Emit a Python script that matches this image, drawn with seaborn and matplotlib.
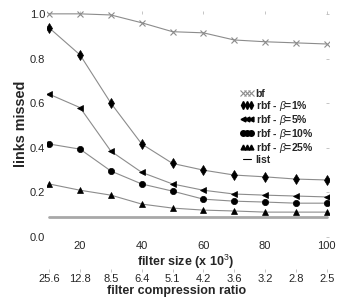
import numpy as np
import pandas as pd
import matplotlib
matplotlib.use('Agg')
import matplotlib.pyplot as plt
import seaborn as sns
from matplotlib.lines import Line2D

filter_size = [10, 20, 30, 40, 50, 60, 70, 80, 90, 100]
compression = ['25.6', '12.8', '8.5', '6.4', '5.1', '4.2', '3.6', '3.2', '2.8', '2.5']

bf = [1.0, 1.0, 0.995, 0.96, 0.92, 0.915, 0.883, 0.875, 0.87, 0.865]
rbf_1 = [0.937, 0.816, 0.60, 0.417, 0.33, 0.30, 0.278, 0.27, 0.26, 0.256]
rbf_5 = [0.64, 0.58, 0.385, 0.29, 0.238, 0.21, 0.193, 0.188, 0.184, 0.18]
rbf_10 = [0.417, 0.394, 0.296, 0.238, 0.206, 0.17, 0.161, 0.157, 0.152, 0.152]
rbf_25 = [0.238, 0.21, 0.188, 0.148, 0.13, 0.121, 0.117, 0.112, 0.112, 0.112]
list_val = [0.09] * 10

sns.set_style('white')
plt.rcParams['font.family'] = ['Liberation Sans', 'DejaVu Sans']
plt.rcParams['mathtext.fontset'] = 'custom'
plt.rcParams['mathtext.it'] = 'Liberation Sans:italic'
plt.rcParams['mathtext.rm'] = 'Liberation Sans'

fig = plt.figure(figsize=(3.54, 3.04), dpi=100)
ax = fig.add_axes([0.133, 0.22, 0.796, 0.744])

grey = '#8c8c8c'
sns.lineplot(x=filter_size, y=list_val, ax=ax, color='#a8a8a8', linewidth=2)
sns.lineplot(x=filter_size, y=bf, ax=ax, color=grey, linewidth=0.8,
             marker='x', markersize=4.5, markeredgecolor=grey, markeredgewidth=0.8)
series = [(rbf_1, 'd', 5), (rbf_5, '<', 4.5), (rbf_10, 'o', 4.5), (rbf_25, '^', 4.5)]
for vals, mk, ms in series:
    sns.lineplot(x=filter_size, y=vals, ax=ax, color=grey, linewidth=0.8,
                 marker=mk, markersize=ms, markerfacecolor='black',
                 markeredgecolor='black', markeredgewidth=0.5)

ax.set_xlim(9.3, 100.7)
ax.set_ylim(0, 1.013)
ax.set_xticks([20, 40, 60, 80, 100])
ax.set_yticks([0.0, 0.2, 0.4, 0.6, 0.8, 1.0])
ax.set_yticklabels(['0.0', '0.2', '0.4', '0.6', '0.8', '1.0'])
for s in ax.spines.values():
    s.set_visible(False)
ax.tick_params(axis='both', labelsize=8, length=2, width=0.6, color='#bbbbbb',
               direction='in', pad=1.5, top=True, right=True)
ax.tick_params(axis='x', pad=2.5)
ax.set_xlabel('filter size (x 10$^3$)', fontsize=9, fontweight='bold')
ax.xaxis.set_label_coords(0.49, -0.068)
ax.set_ylabel('links missed', fontsize=10.4, fontweight='bold')
ax.yaxis.set_label_coords(-0.068, 0.5)

sec = ax.secondary_xaxis(-0.155)
sec.set_xticks(filter_size, compression)
sec.spines['bottom'].set_visible(False)
sec.tick_params(labelsize=8, length=2, width=0.6, color='#bbbbbb', direction='in', pad=1)
ax.text(0.46, -0.237, 'filter compression ratio', transform=ax.transAxes,
        ha='center', va='center', fontsize=9, fontweight='bold')

handles = [
    Line2D([], [], color=grey, marker='x', markersize=4, linestyle='None',
           markeredgecolor=grey, markeredgewidth=0.8),
    Line2D([], [], color='black', marker='d', markersize=4, linestyle='None'),
    Line2D([], [], color='black', marker='<', markersize=3.5, linestyle='None'),
    Line2D([], [], color='black', marker='o', markersize=4, linestyle='None'),
    Line2D([], [], color='black', marker='^', markersize=3.5, linestyle='None'),
    Line2D([], [], color='black', linewidth=0.8),
]
labels = ['bf', r'rbf - $\it{\beta}$=1%', r'rbf - $\it{\beta}$=5%',
          r'rbf - $\it{\beta}$=10%', r'rbf - $\it{\beta}$=25%', 'list']
leg = ax.legend(handles, labels, loc='upper left', bbox_to_anchor=(0.685, 0.655),
                frameon=False, numpoints=3, handlelength=1.3, handletextpad=0.2,
                labelspacing=0.0, borderaxespad=0, borderpad=0,
                prop={'size': 7.5, 'weight': 'bold'})

fig.savefig('out.png', dpi=100)
